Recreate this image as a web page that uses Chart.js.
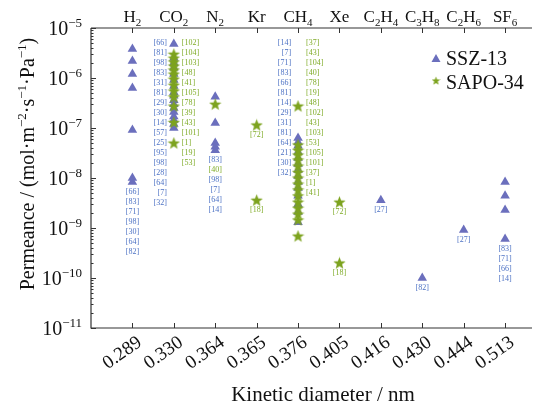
<!DOCTYPE html>
<html>
<head>
<meta charset="utf-8">
<script src="https://cdn.jsdelivr.net/npm/chart.js@4.4.1/dist/chart.umd.min.js"></script>
<style>
  html, body { margin: 0; padding: 0; background: #fff; }
  #wrap { width: 544px; height: 408px; }
</style>
</head>
<body>
<div id="wrap"><canvas id="chart" width="544" height="408"></canvas></div>
<script>
// categories (top: gas, bottom: kinetic diameter in nm)
const gases = ['H2', 'CO2', 'N2', 'Kr', 'CH4', 'Xe', 'C2H4', 'C3H8', 'C2H6', 'SF6'];
const diameters = ['0.289', '0.330', '0.364', '0.365', '0.376', '0.405', '0.416', '0.430', '0.444', '0.513'];
const decades = [-5, -6, -7, -8, -9, -10, -11];

// permeance, mol m-2 s-1 Pa-1, one list per gas
const sszPermeance = [
    [3.8e-6, 2.2e-6, 1.2e-6, 6.3e-7, 9.1e-8, 1.0e-8, 8.3e-9],
    [4.8e-6, 2.5e-6, 2.0e-6, 1.6e-6, 1.2e-6, 9.1e-7, 6.9e-7, 5.2e-7, 4.4e-7, 3.6e-7, 3.0e-7, 2.5e-7, 2.1e-7, 1.7e-7, 1.45e-7, 1.2e-7, 1.0e-7],
    [4.2e-7, 1.26e-7, 5.0e-8, 4.2e-8, 3.6e-8],
    [],
    [6.3e-8, 5.2e-8, 4.4e-8, 3.3e-8, 2.5e-8, 1.9e-8, 1.45e-8, 1.1e-8, 8.3e-9, 6.3e-9, 4.4e-9, 3.0e-9, 2.1e-9, 1.3e-9],
    [],
    [3.6e-9],
    [1.0e-10],
    [9.1e-10],
    [8.3e-9, 4.4e-9, 2.3e-9, 6.0e-10]
];
const sapoPermeance = [
    [],
    [3.0e-6, 2.5e-6, 2.1e-6, 1.74e-6, 1.45e-6, 1.2e-6, 9.5e-7, 7.2e-7, 5.5e-7, 4.2e-7, 2.75e-7, 1.3e-7, 5.0e-8],
    [3.0e-7],
    [1.15e-7, 3.6e-9],
    [2.75e-7, 4.6e-8, 3.6e-8, 2.9e-8, 2.3e-8, 1.74e-8, 1.3e-8, 1.0e-8, 7.6e-9, 5.8e-9, 4.4e-9, 3.3e-9, 2.5e-9, 1.9e-9, 1.45e-9, 6.9e-10],
    [3.3e-9, 2.0e-10],
    [], [], [], []
];

// reference numbers printed next to the points
const sszRefs = [
    ['66', '83', '71', '98', '30', '64', '82'],
    ['66', '81', '98', '83', '31', '81', '29', '30', '14', '57', '25', '95', '98', '28', '64', '7', '32'],
    ['83', '98', '7', '64', '14'],
    [],
    ['14', '7', '71', '83', '66', '81', '14', '29', '31', '81', '64', '21', '30', '32'],
    [],
    ['27'],
    ['82'],
    ['27'],
    ['83', '71', '66', '14']
];
const sapoRefs = [
    [],
    ['102', '104', '103', '48', '41', '105', '78', '39', '43', '101', '1', '19', '53'],
    ['40'],
    ['72', '18'],
    ['37', '43', '104', '40', '78', '19', '48', '102', '43', '103', '53', '105', '101', '37', '1', '41'],
    ['72', '18'],
    [], [], [], []
];

const SSZ_COLOR = '#6b6fbd';
const SAPO_COLOR = '#7da31f';
const SSZ_TEXT = '#4d72c4';
const SAPO_TEXT = '#7fab27';
const AXIS_COLOR = '#333333';
const SERIF = '"Liberation Serif", "Times New Roman", serif';

// how the reference labels are laid out for each gas
const labelLayout = ['stack', 'column', 'stack', 'each', 'column', 'each', 'stack', 'stack', 'stack', 'stack'];

function makeStar(size, color) {
    const c = document.createElement('canvas');
    c.width = size;
    c.height = size;
    const g = c.getContext('2d');
    const cx = size / 2, cy = size / 2 + 0.5;
    const outer = size / 2, inner = outer * 0.42;
    g.beginPath();
    for (let i = 0; i < 10; i++) {
        const r = i % 2 === 0 ? outer : inner;
        const a = -Math.PI / 2 + i * Math.PI / 5;
        g.lineTo(cx + r * Math.cos(a), cy + r * Math.sin(a));
    }
    g.closePath();
    g.fillStyle = color;
    g.fill();
    return c;
}

const starImg = makeStar(13, SAPO_COLOR);
const legendStar = makeStar(9, SAPO_COLOR);

function toPoints(lists) {
    const pts = [];
    lists.forEach((vals, i) => vals.forEach(v => pts.push({ x: i + 1, y: v })));
    return pts;
}

// draw text where digits become sub- or superscripts
function drawRuns(ctx, runs, x, y, align) {
    let total = 0;
    runs.forEach(r => {
        ctx.font = r.font;
        r.w = ctx.measureText(r.text).width;
        total += r.w;
    });
    let cx = align === 'center' ? x - total / 2 : align === 'right' ? x - total : x;
    ctx.textAlign = 'left';
    ctx.textBaseline = 'alphabetic';
    runs.forEach(r => {
        ctx.font = r.font;
        ctx.fillText(r.text, cx, y + (r.dy || 0));
        cx += r.w;
    });
}

function formulaRuns(name, size) {
    const runs = [];
    name.match(/[A-Za-z]+|\d+/g).forEach(part => {
        if (/\d/.test(part)) runs.push({ text: part, font: `${Math.round(size * 0.62)}px ${SERIF}`, dy: 4 });
        else runs.push({ text: part, font: `${size}px ${SERIF}` });
    });
    return runs;
}

const axesPlugin = {
    id: 'axesPlugin',
    beforeDatasetsDraw(chart) {
        const { ctx, chartArea: a, scales: { x, y } } = chart;
        ctx.save();
        ctx.strokeStyle = AXIS_COLOR;
        ctx.lineWidth = 1.2;
        ctx.beginPath();
        ctx.moveTo(a.left, a.top);
        ctx.lineTo(a.right, a.top);
        ctx.moveTo(a.left, a.top);
        ctx.lineTo(a.left, a.bottom);
        ctx.lineTo(a.right, a.bottom);
        ctx.stroke();

        ctx.lineWidth = 1;
        ctx.beginPath();
        gases.forEach((g, i) => {
            const px = Math.round(x.getPixelForValue(i + 1)) + 0.5;
            ctx.moveTo(px, a.bottom);
            ctx.lineTo(px, a.bottom - 5);
            ctx.moveTo(px, a.top);
            ctx.lineTo(px, a.top + 5);
        });
        for (let k = -11; k <= -5; k++) {
            const py = Math.round(y.getPixelForValue(Math.pow(10, k))) + 0.5;
            ctx.moveTo(a.left, py);
            ctx.lineTo(a.left + 5, py);
            if (k < -5) {
                for (let m = 2; m <= 9; m++) {
                    const pm = Math.round(y.getPixelForValue(m * Math.pow(10, k))) + 0.5;
                    ctx.moveTo(a.left, pm);
                    ctx.lineTo(a.left + 2.5, pm);
                }
            }
        }
        ctx.stroke();
        ctx.restore();
    },
    afterDraw(chart) {
        const { ctx, chartArea: a, scales: { x, y } } = chart;
        ctx.save();
        ctx.fillStyle = '#111';

        // top gas names
        gases.forEach((g, i) => {
            drawRuns(ctx, formulaRuns(g, 17), x.getPixelForValue(i + 1), a.top - 6, 'center');
        });

        // y tick labels 10^k
        decades.forEach(k => {
            const py = y.getPixelForValue(Math.pow(10, k));
            drawRuns(ctx, [
                { text: '10', font: `20px ${SERIF}` },
                { text: '\u2212' + Math.abs(k), font: `13px ${SERIF}`, dy: -8 }
            ], a.left - 9, py + 7, 'right');
        });

        // bottom tick labels, slanted
        ctx.font = `19px ${SERIF}`;
        ctx.textAlign = 'right';
        ctx.textBaseline = 'top';
        diameters.forEach((d, i) => {
            ctx.save();
            ctx.translate(x.getPixelForValue(i + 1) + 2, a.bottom + 5);
            ctx.rotate(-35 * Math.PI / 180);
            ctx.fillText(d, 0, 0);
            ctx.restore();
        });

        // axis titles
        ctx.font = `21px ${SERIF}`;
        ctx.textAlign = 'center';
        ctx.textBaseline = 'alphabetic';
        ctx.fillText('Kinetic diameter / nm', 323, 401);

        ctx.save();
        ctx.translate(34, 164);
        ctx.rotate(-Math.PI / 2);
        const big = `20px ${SERIF}`, small = `13px ${SERIF}`;
        drawRuns(ctx, [
            { text: 'Permeance / (mol\u00b7m', font: big },
            { text: '\u22122', font: small, dy: -8 },
            { text: '\u00b7s', font: big },
            { text: '\u22121', font: small, dy: -8 },
            { text: '\u00b7Pa', font: big },
            { text: '\u22121', font: small, dy: -8 },
            { text: ')', font: big }
        ], 0, 0, 'center');
        ctx.restore();

        // legend
        ctx.fillStyle = SSZ_COLOR;
        ctx.beginPath();
        ctx.moveTo(436, 54);
        ctx.lineTo(440.5, 62);
        ctx.lineTo(431.5, 62);
        ctx.closePath();
        ctx.fill();
        ctx.drawImage(legendStar, 431.5, 76);
        ctx.fillStyle = '#111';
        ctx.font = `20px ${SERIF}`;
        ctx.textAlign = 'left';
        ctx.textBaseline = 'alphabetic';
        ctx.fillText('SSZ-13', 446, 65);
        ctx.fillText('SAPO-34', 446, 89);

        // reference numbers
        ctx.font = `8px ${SERIF}`;
        ctx.textBaseline = 'middle';
        const lineH = 10;
        gases.forEach((g, i) => {
            const px = x.getPixelForValue(i + 1);
            const mode = labelLayout[i];
            if (mode === 'column') {
                ctx.textAlign = 'right';
                ctx.fillStyle = SSZ_TEXT;
                sszRefs[i].forEach((r, j) => ctx.fillText('[' + r + ']', px - 7, a.top + 15 + j * lineH));
                ctx.textAlign = 'left';
                ctx.fillStyle = SAPO_TEXT;
                sapoRefs[i].forEach((r, j) => ctx.fillText('[' + r + ']', px + 8, a.top + 15 + j * lineH));
            } else if (mode === 'each') {
                ctx.textAlign = 'center';
                ctx.fillStyle = SAPO_TEXT;
                sapoRefs[i].forEach((r, j) => {
                    ctx.fillText('[' + r + ']', px, y.getPixelForValue(sapoPermeance[i][j]) + 10);
                });
            } else {
                ctx.textAlign = 'center';
                const lows = sszPermeance[i].concat(sapoPermeance[i]);
                const start = y.getPixelForValue(Math.min(...lows)) + 10;
                const items = sszRefs[i].map(r => [r, SSZ_TEXT]);
                items.splice(1, 0, ...sapoRefs[i].map(r => [r, SAPO_TEXT]));
                items.forEach(([r, col], j) => {
                    ctx.fillStyle = col;
                    ctx.fillText('[' + r + ']', px, start + j * lineH);
                });
            }
        });
        ctx.restore();
    }
};

new Chart(document.getElementById('chart'), {
    type: 'scatter',
    data: {
        datasets: [
            {
                label: 'SAPO-34',
                data: toPoints(sapoPermeance),
                pointStyle: starImg,
                pointRadius: 6,
                backgroundColor: SAPO_COLOR,
                borderWidth: 0
            },
            {
                label: 'SSZ-13',
                data: toPoints(sszPermeance),
                pointStyle: 'triangle',
                pointRadius: 5.5,
                backgroundColor: SSZ_COLOR,
                borderColor: SSZ_COLOR,
                borderWidth: 0
            }
        ]
    },
    options: {
        responsive: false,
        animation: false,
        layout: { padding: { left: 91, right: 12, top: 28, bottom: 80 } },
        scales: {
            x: { type: 'linear', min: 0, max: 10.65, display: false },
            y: { type: 'logarithmic', min: 1e-11, max: 1e-5, display: false }
        },
        plugins: {
            legend: { display: false },
            tooltip: { enabled: false }
        }
    },
    plugins: [axesPlugin]
});
</script>
</body>
</html>
